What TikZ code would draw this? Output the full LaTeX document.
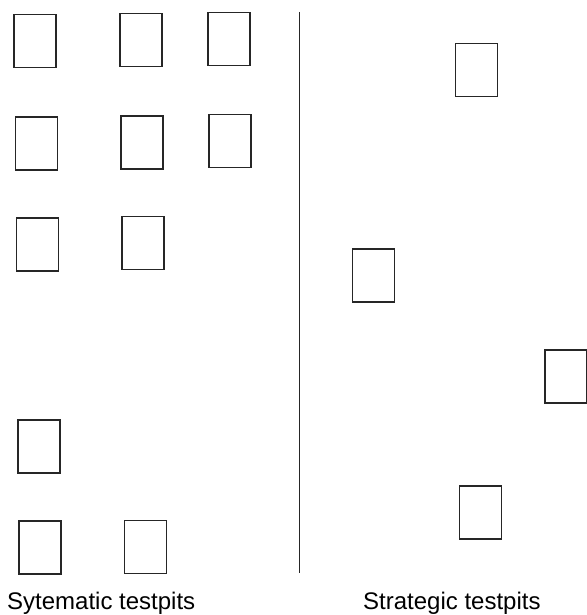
\documentclass[tikz,border=0pt]{standalone}
\usepackage{fontspec}
\setmainfont{Liberation Sans}
\begin{document}
\begin{tikzpicture}[x=1pt,y=-1pt,
  pit/.style={draw=black!85,line width=1.4pt,inner sep=0pt,minimum width=42pt,minimum height=53pt},
  caption/.style={anchor=base west,inner sep=0pt,font=\fontsize{24}{28}\selectfont}]
\useasboundingbox (0,0) rectangle (586,615);
% systematic grid
\node[pit] (s1) at (35,41) {};
\node[pit] (s2) at (141,40) {};
\node[pit] (s3) at (229,39) {};
\node[pit] (s4) at (36.5,143.5) {};
\node[pit] (s5) at (142,142.5) {};
\node[pit] (s6) at (230,141) {};
\node[pit] (s7) at (37.5,244.5) {};
\node[pit] (s8) at (143,243) {};
\node[pit] (s9) at (39,446.5) {};
\node[pit] (s10) at (40,547.5) {};
\node[pit] (s11) at (145.5,547) {};
% strategic
\node[pit] (t1) at (476.5,70) {};
\node[pit] (t2) at (373.5,275.5) {};
\node[pit] (t3) at (566,376.5) {};
\node[pit] (t4) at (480.5,512.5) {};
% divider
\coordinate (dtop) at (299,12);
\coordinate (dbot) at (299,573);
\draw[line width=0.9pt,black!85] (dtop) -- (dbot);
% captions
\node[caption] (c1) at (7,609.5) {Sytematic testpits};
\node[caption] (c2) at (363,609.5) {Strategic testpits};
\end{tikzpicture}
\end{document}
